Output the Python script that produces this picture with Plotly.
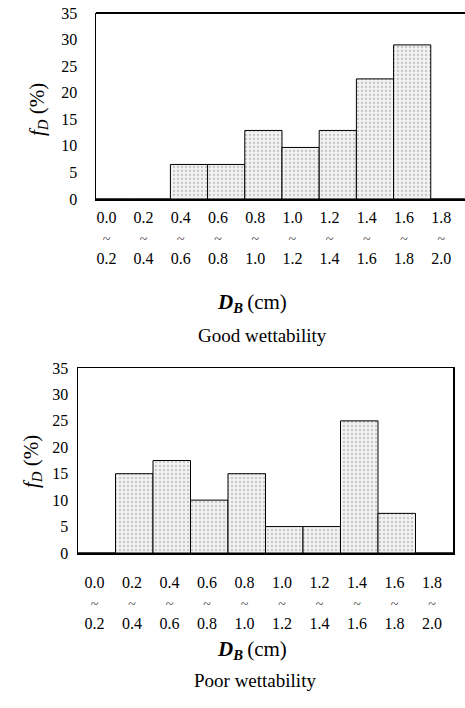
import plotly.graph_objects as go

# ---- data ----
bin_lo = ["0.0", "0.2", "0.4", "0.6", "0.8", "1.0", "1.2", "1.4", "1.6", "1.8"]
bin_hi = ["0.2", "0.4", "0.6", "0.8", "1.0", "1.2", "1.4", "1.6", "1.8", "2.0"]
good_fd = [0, 0, 6.5, 6.5, 12.9, 9.7, 12.9, 22.6, 29.0, 0]
poor_fd = [0, 15, 17.5, 10, 15, 5, 5, 25, 7.5, 0]
y_ticks = [0, 5, 10, 15, 20, 25, 30, 35]

FONT = "Liberation Serif"
W, H = 465, 708

xpos = [i + 0.5 for i in range(len(bin_lo))]
tilde = '<span style="font-size:14px;color:#444">~</span>'
ticktext = [f"{a}<br>{tilde}<br>{b}" for a, b in zip(bin_lo, bin_hi)]

bar_style = dict(
    color="#efefef",
    line=dict(color="black", width=1),
    pattern=dict(shape=".", fgcolor="#9a9a9a", bgcolor="#f2f2f2", size=4, solidity=0.25),
)

fig = go.Figure()
fig.add_trace(go.Bar(x=xpos, y=good_fd, width=1, marker=bar_style, xaxis="x", yaxis="y",
                     showlegend=False, hoverinfo="skip"))
fig.add_trace(go.Bar(x=xpos, y=poor_fd, width=1, marker=bar_style, xaxis="x2", yaxis="y2",
                     showlegend=False, hoverinfo="skip"))

axis_common = dict(showgrid=False, zeroline=False, showline=True, linecolor="black", linewidth=1.5,
                   ticks="", automargin=False,
                   tickfont=dict(family=FONT, size=16, color="black"))

fig.update_layout(
    width=W, height=H,
    margin=dict(l=0, r=0, t=0, b=0, pad=0, autoexpand=False),
    paper_bgcolor="white", plot_bgcolor="white",
    bargap=0,
    xaxis=dict(axis_common, domain=[96 / W, 1], range=[0, 9.92], anchor="y",
               tickmode="array", tickvals=[p - 0.22 for p in xpos], ticktext=ticktext,
               ticklabelstandoff=3),
    yaxis=dict(axis_common, domain=[1 - 199 / H, 1 - 13 / H], range=[0, 35], anchor="x",
               tickmode="array", tickvals=y_ticks, ticklabelstandoff=14),
    xaxis2=dict(axis_common, domain=[78 / W, 453 / W], range=[0, 10], anchor="y2", mirror=True,
                tickmode="array", tickvals=[p - 0.06 for p in xpos], ticktext=ticktext,
                ticklabelstandoff=14),
    yaxis2=dict(axis_common, domain=[1 - 553 / H, 1 - 368 / H], range=[0, 35], anchor="x2", mirror=True,
                tickmode="array", tickvals=y_ticks, ticklabelstandoff=5),
)

# top border of the upper panel (no right border visible there)
fig.add_shape(type="line", xref="x domain", yref="y domain", x0=0, x1=1, y0=1, y1=1,
              line=dict(color="black", width=2))

ylab = "<i>f</i><sub><i>D</i></sub> (%)"
xlab = "<b><i>D</i></b><sub><b><i>B</i></b></sub>\u2009(cm)"

ann = [
    dict(text=ylab, x=38 / W, y=1 - 110 / H, textangle=-90, size=21),
    dict(text=ylab, x=32 / W, y=1 - 462 / H, textangle=-90, size=21),
    dict(text=xlab, x=252 / W, y=1 - 303 / H, textangle=0, size=21),
    dict(text=xlab, x=252 / W, y=1 - 650 / H, textangle=0, size=21),
    dict(text="Good wettability", x=262 / W, y=1 - 335 / H, textangle=0, size=19),
    dict(text="Poor wettability", x=255 / W, y=1 - 680 / H, textangle=0, size=19),
]
for a in ann:
    fig.add_annotation(text=a["text"], x=a["x"], y=a["y"], xref="paper", yref="paper",
                       xanchor="center", yanchor="middle", showarrow=False, textangle=a["textangle"],
                       font=dict(family=FONT, size=a["size"], color="black"))

fig.write_html("out.html", config={"displayModeBar": False, "staticPlot": True},
               post_script="document.body.style.margin='0';document.body.style.overflow='hidden';")
